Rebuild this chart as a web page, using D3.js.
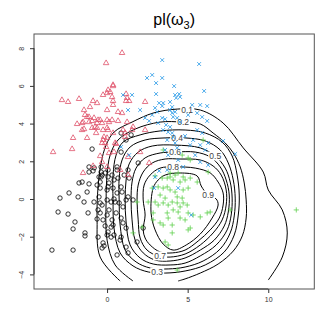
<!DOCTYPE html>
<html><head><meta charset="utf-8">
<script src="https://cdn.jsdelivr.net/npm/d3@7"></script>
<style>html,body{margin:0;padding:0;background:#fff;}</style>
</head><body>
<svg id="c" width="332" height="332"></svg>
<script>
// ---------- data ----------
const xTicks = [0, 5, 10];
const yTicks = [-4, -2, 0, 2, 4, 6, 8];

// class omega1 (black circles)
const omega1 = [[-1.12,1.43],[-0.87,1.49],[-1.74,0.85],[-1.55,0.90],[-1.12,0.80],[-0.50,1.17],[-0.43,0.90],[-2.92,0.05],[-2.36,0.32],[-1.80,0.11],[-1.24,0.37],[-1.43,-0.16],[-0.81,-0.16],[-0.50,0.11],[-0.31,-0.32],[-3.04,-0.69],[-2.42,-0.80],[-1.99,-1.22],[-1.18,-0.74],[-0.62,-1.06],[-0.43,-0.74],[-2.11,-1.59],[-1.37,-1.80],[-1.37,-1.96],[-0.25,-2.33],[-0.31,-2.60],[-3.42,-2.71],[-2.11,-2.71],[0,-1.91],[-0.12,-1.43],[-0.25,-1.11],
[-0.93,2.65],[-1.12,1.70],[-0.80,1.65],[0.87,3.50],[0.62,1.70],[0.62,1.54],[0.31,1.27],[0.43,1.01],[1.06,1.27],[1.37,1.11],[0,0.48],[0.12,0.85],[0.87,0.64],[0.25,-0.16],[0.43,0],[0.12,-0.58],[0.75,-0.21],[1.18,-0.05],[0.87,-1.01],[0.31,-1.11],[0.25,-1.49],[1.18,-1.54],[0.25,-2.02],[0.43,-1.91],[0.87,-2.02],[-0.19,-2.49],[1.18,-2.55],[-0.37,1.70],[-0.37,1.43],[-0.37,1.17],[-0.43,0.58],[0.87,2.49],[1.18,3.13],[1.49,3.40],
[-0.62,0.74],[-0.12,1.38],[0.68,1.11],[0.06,0.64],[0.37,0.58],[0.62,0.32],[0.93,0.37],[-0.43,-0.21],[0,-0.05],[0.50,-0.16],[1.30,0.11],[1.61,-0.05],[-0.56,-0.58],[0.56,-0.74],[0.99,-0.42],[0,-0.85],[0.37,-1.38],[0.99,-1.27],[-0.56,-2.02],[0.06,-1.75],[0.81,-2.18],[0.62,-2.97],[1.30,-2.86],[2.24,-1.54],[1.86,-2.28],
[1.93,1.91],[1.30,1.54],[0.06,1.17],[-0.31,1.27],[0.06,1.54]];

// class omega2 (red triangles)
const omega2 = [[0.93,7.75],[-0.06,7.21],[0.37,6.05],[0.06,5.78],[0.19,5.68],[0,5.62],[0.31,5.41],[-0.25,5.52],[0.37,5.20],[1.18,5.57],[1.24,5.36],[1.18,5.20],[1.37,5.20],[2.36,5.15],[0.37,4.99],[0,4.72],[0.68,4.62],[0.93,4.56],[-0.43,4.19],[0,4.19],[0.31,4.19],[0.68,4.14],[1.24,4.08],[1.61,3.82],[-0.25,3.66],[0,3.77],[0.06,3.66],[0.37,3.50],[0.99,3.66],[1.12,3.50],[1.55,3.66],[2.36,3.66],[-0.25,3.13],[0,3.24],[-0.12,2.97],[0.50,2.97],[1.12,3.29],[2.05,2.49],[1.30,2.23],[-0.43,2.28],[2.61,1.91],[0,1.70],[0.81,1.54],
[-2.80,5.25],[-2.42,5.15],[-1.74,5.31],[-0.87,5.20],[-0.62,5.09],[-1.06,4.88],[-1.43,4.72],[-1.24,4.35],[-1.37,4.46],[-1.12,4.35],[-0.93,4.14],[-0.81,4.30],[-0.56,4.19],[-1.49,4.08],[-1.86,3.98],[-1.55,3.66],[-0.75,3.82],[-0.62,3.77],[-2.11,3.24],[-1.24,3.24],[-0.68,3.50],[-0.19,3.29],[-2.17,2.65],[-3.35,2.49],[-0.31,2.97],[-1.49,1.38],[-0.87,1.75],[-0.31,1.96],[0.43,2.49],[0.12,2.44],[-0.06,2.76],[0.56,2.92],[-1.12,4.08],[-0.31,4.03],[-1.43,3.71],[-0.93,3.77],[0.37,5.99],[1.30,1.27],[-1.55,4.03],[-0.62,4.03],[0.12,4.08]];

// class omega3 (green plus)
const omega3 = [[2.98,1.22],[3.73,1.11],[3.91,1.17],[4.10,1.01],[4.22,1.27],[4.41,1.38],[4.53,0.90],[4.84,1.01],[5.16,1.11],[5.59,0.90],[2.80,0.58],[3.17,0.64],[3.48,0.58],[3.73,0.64],[3.91,0.48],[4.22,0.37],[4.72,0.48],[5.03,0.58],[4.35,0.11],[4.66,0.05],[3.29,0.21],[3.60,0.05],[2.55,-0.16],[2.98,-0.16],[3.17,-0.32],[3.48,-0.21],[3.79,-0.32],[4.04,-0.16],[4.35,-0.21],[4.53,-0.42],[4.72,-0.21],[4.97,-0.32],[4.10,-0.58],[4.41,-0.69],[3.73,-0.74],[5.03,-0.74],[5.34,-0.85],[2.86,-0.74],[3.79,-1.01],[4.53,-1.01],[4.84,-1.11],[5.78,-0.95],[6.21,-0.74],[6.40,-0.69],[2.86,-1.11],[3.29,-1.27],[3.48,-1.38],[4.04,-1.38],[5.16,-1.54],[2.17,-1.49],[1.61,-1.80],[4.04,-1.80],[3.60,-2.28],[3.79,-2.44],[4.35,-3.77],[5.03,-1.64],[1.86,-0.16],[6.27,1.43],[7.64,-0.58],[11.74,-0.58],[3.48,2.60],[4.66,2.33],[5.16,2.07],[3.91,1.38],[4.72,1.17],[3.42,1.11],[5.96,3.13],[5.03,2.18]];

// class omega4 (blue x)
const omega4 = [[3.42,7.37],[5.71,7.16],[2.48,6.42],[2.80,6.58],[3.42,6.42],[3.04,6.15],[4.16,5.99],[6.02,5.73],[1.55,5.52],[3.04,5.57],[4.22,5.52],[4.47,5.57],[4.53,5.41],[4.29,5.36],[3.23,5.09],[3.48,5.09],[3.42,4.93],[3.91,5.15],[4.04,4.88],[5.28,4.99],[5.78,4.99],[6.21,4.93],[1.30,4.72],[2.98,4.83],[3.11,4.62],[3.91,4.72],[4.04,4.56],[4.22,4.62],[2.80,4.46],[2.36,4.30],[3.42,4.30],[3.60,4.24],[4.10,4.35],[4.35,4.30],[2.61,4.14],[3.17,4.03],[3.66,3.93],[3.91,3.82],[4.53,4.08],[5.03,4.46],[5.59,4.56],[5.90,4.35],[6.21,4.14],[3.48,3.66],[3.79,3.55],[4.04,3.50],[4.10,3.29],[4.84,3.34],[3.73,3.13],[4.22,2.97],[5.34,3.13],[5.78,2.86],[3.60,2.60],[4.35,2.71],[3.79,2.33],[5.47,2.33],[4.41,2.07],[5.78,1.96],[4.72,1.70],[6.27,1.80],[3.73,1.54],
[5.90,3.50],[7.20,3.08],[7.95,2.39],[0.99,5.52],[2.05,4.72],[5.59,3.66],[6.27,2.97],[5.16,2.86],[6.09,2.60],[2.98,1.17],[3.23,1.49],[4.41,0.58],[2.92,0.58],[5.22,-0.85],[0.87,2.76],[1.37,2.33]];

// contour levels of pl(omega3), traced as polylines
const levels = [0.1, 0.2, 0.3, 0.4, 0.5, 0.6, 0.7, 0.8, 0.9];
const contour01 = [[0.81,-4.35],[-0.43,-3.08],[-0.62,-1.11],[-0.56,0.64],[-0.37,1.91],[-0.06,2.86],[0.43,3.55],[1.55,4.08],[2.86,4.56],[4.35,4.77],[5.78,4.72],[7.20,4.03],[8.45,2.71],[9.69,1.43],[10.0,0.48],[10.87,-0.58],[11.18,-1.80],[10.87,-3.08],[10.0,-4.30]];
const contour02 = [[1.61,-4.35],[0.50,-3.50],[0,-2.18],[-0.06,-0.05],[0,1.27],[0.19,2.33],[0.68,3.13],[1.74,3.71],[3.29,4.08],[4.66,4.08],[5.78,3.98],[6.58,3.50],[7.33,2.97],[7.83,2.44],[8.26,1.70],[8.51,0.85],[8.63,-0.05],[8.63,-1.01],[8.39,-1.96],[7.83,-2.76],[6.89,-3.45],[5.78,-3.93],[4.84,-4.24],[4.41,-4.35]];
const contour03 = [[0.37,-0.05],[0.37,1.27],[0.56,2.33],[0.99,3.02],[2.05,3.40],[3.29,3.61],[4.84,3.66],[6.09,3.50],[7.14,3.02],[7.76,2.28],[8.07,1.27],[8.20,0.21],[8.14,-0.85],[7.89,-1.91],[7.27,-2.81],[6.09,-3.50],[4.84,-3.82],[3.60,-3.93],[2.55,-3.87],[1.61,-3.55],[0.81,-2.86],[0.43,-1.54]];
const contour04 = [[0.75,-0.05],[0.75,1.11],[0.93,2.07],[1.43,2.76],[2.36,3.13],[3.60,3.24],[4.84,3.24],[6.09,3.08],[7.02,2.60],[7.52,1.91],[7.83,1.01],[7.95,0.05],[7.89,-0.90],[7.64,-1.80],[7.02,-2.65],[5.96,-3.29],[4.84,-3.61],[3.79,-3.71],[2.67,-3.66],[1.80,-3.34],[1.12,-2.71],[0.81,-1.38]];
const contour05 = [[1.12,-0.05],[1.18,1.01],[1.37,1.86],[1.93,2.49],[2.80,2.81],[4.22,2.86],[5.78,2.71],[6.71,2.28],[7.33,1.64],[7.64,0.90],[7.76,0.05],[7.70,-0.85],[7.45,-1.64],[6.77,-2.44],[5.78,-3.02],[4.84,-3.40],[3.91,-3.50],[2.86,-3.45],[2.05,-3.13],[1.43,-2.44],[1.18,-1.22]];
const contour06 = [[1.49,-0.05],[1.55,0.90],[1.80,1.64],[2.36,2.18],[3.29,2.44],[4.22,2.49],[5.47,2.49],[6.40,2.23],[7.02,1.70],[7.39,1.01],[7.58,0.21],[7.52,-0.69],[7.27,-1.43],[6.65,-2.18],[5.78,-2.71],[4.84,-3.13],[3.91,-3.29],[2.98,-3.24],[2.24,-2.86],[1.74,-2.18],[1.55,-1.11]];
const contour07 = [[1.86,-0.05],[1.93,0.74],[2.24,1.43],[2.80,1.91],[3.60,2.12],[4.53,2.12],[5.78,2.07],[6.58,1.75],[7.08,1.27],[7.39,0.48],[7.39,-0.32],[7.14,-1.11],[6.58,-1.80],[5.78,-2.44],[4.84,-2.92],[3.91,-3.08],[3.17,-3.02],[2.48,-2.71],[2.05,-2.07],[1.93,-1.11]];
const contour08 = [[2.24,-0.05],[2.30,0.74],[2.67,1.27],[3.29,1.64],[4.22,1.70],[5.47,1.64],[6.40,1.38],[6.89,0.90],[7.20,0.32],[7.20,-0.32],[6.96,-1.01],[6.40,-1.64],[5.65,-2.23],[4.84,-2.71],[4.04,-2.86],[3.29,-2.81],[2.67,-2.44],[2.36,-2.07],[2.24,-1.64],[2.36,-0.85]];
const contour09 = [[2.86,0.58],[3.17,1.01],[3.60,1.27],[4.53,1.38],[5.59,1.22],[5.84,0.69],[6.27,0.21],[6.77,0],[6.89,-0.32],[6.52,-1.01],[5.78,-1.86],[4.91,-2.44],[4.10,-2.71],[3.48,-2.39],[2.98,-1.64],[2.73,-0.74]];
const contourClosed = [false, false, true, true, true, true, true, true, true];

// contour label anchor positions (data units)
const labelX = [4.97, 4.72, 3.11, 4.35, 6.71, 4.22, 3.29, 4.10, 6.27];
const labelY = [4.72, 4.08, -3.87, 3.24, 2.28, 2.49, -3.02, 1.70, 0.21];

// ---------- drawing ----------
const svg = d3.select("#c");
const L = 34, R = 314.3, T = 34, B = 289;
const x = d3.scaleLinear().domain([-4.534, 12.857]).range([L, R]);
const y = d3.scaleLinear().domain([-4.775, 8.753]).range([B, T]);
const font = "'Liberation Sans', Arial, Helvetica, sans-serif";

// contours
const contours = [contour01, contour02, contour03, contour04, contour05, contour06, contour07, contour08, contour09];
const gC = svg.append("g");
contours.forEach((c, i) => {
  const gen = d3.line().x(d => x(d[0])).y(d => y(d[1]))
    .curve(contourClosed[i] ? d3.curveCatmullRomClosed.alpha(0.5) : d3.curveCatmullRom.alpha(0.5));
  gC.append("path").attr("d", gen(c)).attr("fill", "none")
    .attr("stroke", "#000").attr("stroke-width", 1);
});

// contour labels
const gL = svg.append("g");
levels.forEach((lv, i) => {
  const t = d3.format(".1f")(lv);
  const cx = x(labelX[i]), cy = y(labelY[i]);
  gL.append("rect").attr("x", cx - 7).attr("y", cy - 4.5).attr("width", 14).attr("height", 9).attr("fill", "#fff");
  gL.append("text").attr("x", cx).attr("y", cy + 3).attr("text-anchor", "middle")
    .attr("font-family", font).attr("font-size", 8.5).attr("fill", "#444").text(t);
});

// points
const gP = svg.append("g").attr("fill", "none").attr("stroke-width", 0.8);
gP.selectAll(".c1").data(omega1).enter().append("circle")
  .attr("cx", d => x(d[0])).attr("cy", d => y(d[1])).attr("r", 2.2).attr("stroke", "#000");
const tri = d3.symbol().type(d3.symbolTriangle).size(13);
gP.selectAll(".c2").data(omega2).enter().append("path")
  .attr("d", tri).attr("transform", d => `translate(${x(d[0])},${y(d[1])})`).attr("stroke", "#DF536B");
gP.selectAll(".c3").data(omega3).enter().append("path")
  .attr("d", "M-2.6,0H2.6M0,-2.6V2.6").attr("transform", d => `translate(${x(d[0])},${y(d[1])})`).attr("stroke", "#61D04F");
gP.selectAll(".c4").data(omega4).enter().append("path")
  .attr("d", "M-1.9,-1.9L1.9,1.9M-1.9,1.9L1.9,-1.9").attr("transform", d => `translate(${x(d[0])},${y(d[1])})`).attr("stroke", "#2297E6");

// box
svg.append("rect").attr("x", L).attr("y", T).attr("width", R - L).attr("height", B - T)
  .attr("fill", "none").attr("stroke", "#555").attr("stroke-width", 1);

// axes
const xAxis = d3.axisBottom(x).tickValues(xTicks).tickSize(4).tickPadding(4).tickFormat(d3.format("d"));
const gx = svg.append("g").attr("transform", `translate(0,${B})`).call(xAxis);
gx.select(".domain").attr("stroke", "#333").attr("d", `M${x(xTicks[0])},0H${x(xTicks[xTicks.length-1])}`);
gx.selectAll(".tick line").attr("stroke", "#333");
gx.selectAll("text").attr("font-family", font).attr("font-size", 7).attr("fill", "#333");

const yAxis = d3.axisLeft(y).tickValues(yTicks).tickSize(4).tickFormat(d3.format("d"));
const gy = svg.append("g").attr("transform", `translate(${L},0)`).call(yAxis);
gy.select(".domain").attr("stroke", "#333").attr("d", `M0,${y(yTicks[0])}V${y(yTicks[yTicks.length-1])}`);
gy.selectAll(".tick line").attr("stroke", "#333");
gy.selectAll("text").attr("font-family", font).attr("font-size", 7).attr("fill", "#333")
  .attr("text-anchor", "middle").attr("x", null).attr("dy", null)
  .attr("transform", "translate(-12,0) rotate(-90)").attr("y", 0).attr("dy", "0.35em");

// title
const title = svg.append("text").attr("x", (L + R) / 2).attr("y", 25).attr("text-anchor", "middle")
  .attr("font-family", font).attr("font-size", 16).attr("fill", "#000");
title.append("tspan").text("pl(\u03c9");
title.append("tspan").attr("font-size", 11).attr("dy", 3.5).text("3");
title.append("tspan").attr("dy", -3.5).text(")");
</script>
</body></html>
